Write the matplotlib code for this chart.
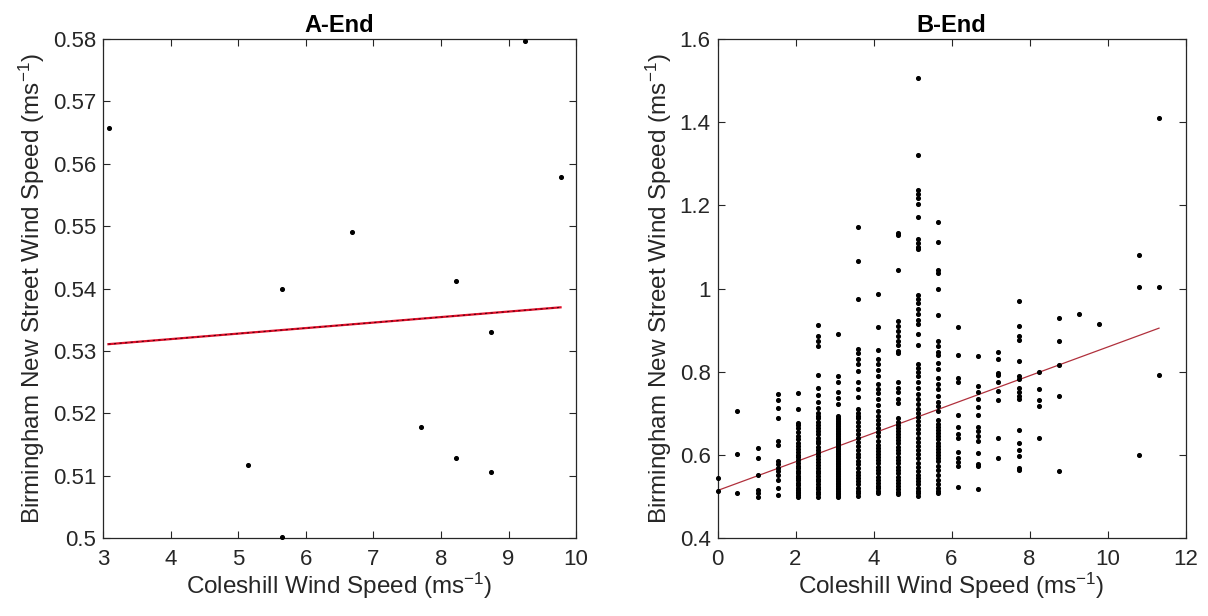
import numpy as np
import matplotlib
matplotlib.use('Agg')
import matplotlib.pyplot as plt
from matplotlib.ticker import FuncFormatter

plt.rcParams['font.family'] = ['Liberation Sans', 'DejaVu Sans']
plt.rcParams['mathtext.default'] = 'regular'

# A-End data
a_x = [3.09, 5.14, 5.65, 5.65, 6.68, 7.71, 8.23, 8.23, 8.74, 8.74, 9.25, 9.77]
a_y = [0.5657, 0.5117, 0.5399, 0.5002, 0.5491, 0.5178, 0.5412, 0.5129,
       0.5330, 0.5107, 0.5796, 0.5578]
a_fit_x = [3.08, 9.77]
a_fit_y = [0.5311, 0.5370]

# B-End data, one list per Coleshill speed bin
b_bins = [0.0, 0.51, 1.03, 1.54, 2.06, 2.57, 3.09, 3.60, 4.12, 4.63, 5.14,
          5.66, 6.17, 6.69, 7.20, 7.72, 8.23, 8.75, 9.26, 9.77, 10.80, 11.32]
b_vals = [
    [0.545, 0.515],
    [0.705, 0.603, 0.509],
    [0.617, 0.592, 0.552, 0.517, 0.509, 0.500],
    [0.748, 0.732, 0.712, 0.690, 0.633, 0.625, 0.585, 0.578, 0.570, 0.562,
     0.553, 0.540, 0.522, 0.505],
    [0.750, 0.710, 0.678, 0.672, 0.665, 0.655, 0.645, 0.638, 0.630, 0.622,
     0.615, 0.608, 0.600, 0.595, 0.588, 0.582, 0.575, 0.568, 0.562, 0.556,
     0.550, 0.545, 0.540, 0.534, 0.528, 0.522, 0.517, 0.512, 0.508, 0.504,
     0.500],
    [0.912, 0.887, 0.873, 0.862, 0.792, 0.762, 0.745, 0.728, 0.712, 0.700,
     0.695, 0.688, 0.680, 0.672, 0.665, 0.658, 0.650, 0.642, 0.635, 0.628,
     0.620, 0.612, 0.605, 0.598, 0.590, 0.583, 0.576, 0.570, 0.563, 0.556,
     0.550, 0.543, 0.537, 0.530, 0.524, 0.518, 0.512, 0.506, 0.500],
    [0.890, 0.790, 0.775, 0.752, 0.738, 0.722, 0.695, 0.690, 0.686, 0.682,
     0.678, 0.674, 0.670, 0.666, 0.662, 0.658, 0.654, 0.650, 0.646, 0.642,
     0.638, 0.634, 0.630, 0.626, 0.622, 0.618, 0.614, 0.610, 0.606, 0.602,
     0.598, 0.594, 0.590, 0.586, 0.582, 0.578, 0.574, 0.570, 0.566, 0.562,
     0.558, 0.554, 0.550, 0.546, 0.542, 0.538, 0.534, 0.530, 0.526, 0.522,
     0.518, 0.514, 0.510, 0.506, 0.502, 0.500],
    [1.148, 1.067, 0.976, 0.856, 0.845, 0.832, 0.818, 0.803, 0.775, 0.760,
     0.740, 0.710, 0.702, 0.695, 0.688, 0.680, 0.670, 0.660, 0.650, 0.640,
     0.632, 0.622, 0.612, 0.603, 0.595, 0.585, 0.578, 0.570, 0.560, 0.552,
     0.545, 0.538, 0.530, 0.522, 0.515, 0.508, 0.502],
    [0.988, 0.908, 0.852, 0.830, 0.820, 0.805, 0.790, 0.770, 0.760, 0.750,
     0.735, 0.720, 0.705, 0.695, 0.685, 0.675, 0.665, 0.655, 0.645, 0.635,
     0.625, 0.618, 0.610, 0.602, 0.595, 0.588, 0.580, 0.572, 0.565, 0.558,
     0.548, 0.540, 0.533, 0.526, 0.520, 0.514, 0.508],
    [1.133, 1.128, 1.044, 0.922, 0.910, 0.898, 0.885, 0.875, 0.865, 0.850,
     0.845, 0.775, 0.762, 0.752, 0.735, 0.725, 0.690, 0.680, 0.672, 0.665,
     0.658, 0.650, 0.643, 0.636, 0.628, 0.620, 0.612, 0.604, 0.596, 0.588,
     0.580, 0.572, 0.564, 0.556, 0.548, 0.540, 0.532, 0.525, 0.518, 0.512,
     0.506],
    [1.507, 1.320, 1.236, 1.228, 1.218, 1.204, 1.171, 1.120, 1.110, 1.101,
     1.095, 0.985, 0.975, 0.965, 0.950, 0.940, 0.925, 0.915, 0.892, 0.865,
     0.820, 0.810, 0.800, 0.790, 0.775, 0.762, 0.748, 0.735, 0.722, 0.710,
     0.700, 0.692, 0.682, 0.672, 0.662, 0.652, 0.642, 0.632, 0.622, 0.612,
     0.602, 0.592, 0.582, 0.572, 0.562, 0.552, 0.545, 0.538, 0.530, 0.522,
     0.515, 0.508, 0.502],
    [1.160, 1.113, 1.044, 1.038, 1.000, 0.936, 0.875, 0.862, 0.848, 0.840,
     0.822, 0.808, 0.785, 0.772, 0.758, 0.742, 0.728, 0.718, 0.705, 0.685,
     0.675, 0.668, 0.660, 0.652, 0.645, 0.638, 0.630, 0.622, 0.615, 0.608,
     0.600, 0.592, 0.585, 0.575, 0.565, 0.552, 0.540, 0.530, 0.522, 0.515,
     0.508],
    [0.908, 0.840, 0.785, 0.775, 0.696, 0.668, 0.650, 0.640, 0.607, 0.592,
     0.583, 0.575, 0.524],
    [0.838, 0.766, 0.752, 0.735, 0.715, 0.696, 0.668, 0.658, 0.645, 0.635,
     0.605, 0.578, 0.575, 0.519],
    [0.847, 0.830, 0.798, 0.792, 0.776, 0.755, 0.732, 0.640, 0.593],
    [0.971, 0.911, 0.885, 0.877, 0.826, 0.790, 0.783, 0.762, 0.752, 0.742,
     0.735, 0.661, 0.630, 0.612, 0.598, 0.570, 0.565],
    [0.800, 0.760, 0.732, 0.718, 0.640],
    [0.929, 0.875, 0.817, 0.741, 0.561],
    [0.940],
    [0.915],
    [1.081, 1.004, 0.601],
    [1.409, 1.004, 0.792],
]
b_fit_x = [0.0, 11.32]
b_fit_y = [0.515, 0.905]

b_x = []
b_y = []
for xv, ys in zip(b_bins, b_vals):
    b_x += [xv] * len(ys)
    b_y += ys

xlab = 'Coleshill Wind Speed (ms$^{-1}$)'
ylab = 'Birmingham New Street Wind Speed (ms$^{-1}$)'
txt = '#262626'

fig = plt.figure(figsize=(12.08, 6.16), dpi=100)
ax1 = fig.add_axes([0.0853, 0.126, 0.3916, 0.811])
ax2 = fig.add_axes([0.594, 0.126, 0.3874, 0.811])

for ax in (ax1, ax2):
    ax.tick_params(direction='in', top=True, right=True, labelsize=16,
                   colors=txt, length=5, width=0.8, pad=5)
    ax.tick_params(axis='x', pad=8)
    for s in ax.spines.values():
        s.set_color(txt)
        s.set_linewidth(0.9)
    ax.set_xlabel(xlab, fontsize=17.5, color=txt, labelpad=0)
    ax.set_ylabel(ylab, fontsize=17.5, color=txt, labelpad=4)

# A-End
ax1.scatter(a_x, a_y, s=7, c='k', zorder=3, clip_on=False)
ax1.plot(a_fit_x, a_fit_y, color='#e0102a', lw=1.6)
ax1.plot(a_fit_x, a_fit_y, color='#500010', lw=0.8, dashes=(2, 3))
ax1.set_xlim(3, 10)
ax1.set_ylim(0.5, 0.58)
ax1.set_yticks(np.arange(0.50, 0.581, 0.01))
ax1.yaxis.set_major_formatter(FuncFormatter(lambda v, p: '%g' % round(v, 2)))
ax1.set_title('A-End', fontsize=17, fontweight='bold', pad=5)

# B-End
ax2.scatter(b_x, b_y, s=7, c='k', zorder=3, clip_on=False)
ax2.plot(b_fit_x, b_fit_y, color='#b0303c', lw=0.9)
ax2.set_xlim(0, 12)
ax2.set_ylim(0.4, 1.6)
ax2.set_yticks(np.arange(0.4, 1.61, 0.2))
ax2.yaxis.set_major_formatter(FuncFormatter(lambda v, p: '%g' % round(v, 1)))
ax2.set_title('B-End', fontsize=17, fontweight='bold', pad=5)

plt.savefig('out.png', dpi=100)
